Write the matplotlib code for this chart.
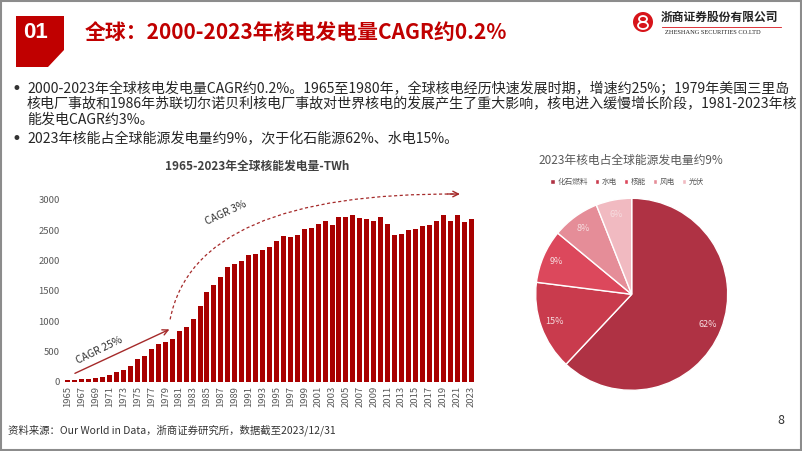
import matplotlib
matplotlib.use('Agg')
import matplotlib.pyplot as plt
from matplotlib.patches import Polygon, Rectangle, Ellipse, PathPatch
from matplotlib.path import Path
from matplotlib.lines import Line2D

plt.rcParams['font.family'] = ['Noto Sans CJK SC', 'DejaVu Sans']

# data
years = list(range(1965, 2024))
nuclear_twh = [25, 33, 40, 52, 62, 80, 110, 152, 200, 266,
               370, 430, 545, 630, 650, 708, 840, 910, 1030, 1250,
               1480, 1590, 1728, 1888, 1937, 1992, 2086, 2102, 2179, 2218,
               2317, 2400, 2383, 2422, 2515, 2532, 2609, 2647, 2592, 2713,
               2719, 2752, 2697, 2691, 2653, 2719, 2603, 2427, 2444, 2499,
               2526, 2565, 2587, 2653, 2746, 2647, 2757, 2636, 2680]

pie_labels = ['化石燃料', '水电', '核能', '风电', '光伏']
pie_shares = [62, 15, 9, 8, 6]
pie_colors = ['#AF3244', '#C93B4D', '#DC485C', '#E58D98', '#F1BAC1']

bullet1 = ['2000-2023年全球核电发电量CAGR约0.2%。1965至1980年，全球核电经历快速发展时期，增速约25%；1979年美国三里岛',
           '核电厂事故和1986年苏联切尔诺贝利核电厂事故对世界核电的发展产生了重大影响，核电进入缓慢增长阶段，1981-2023年核',
           '能发电CAGR约3%。']
bullet2 = '2023年核能占全球能源发电量约9%，次于化石能源62%、水电15%。'

RED = '#C00000'
W, H = 802, 451
fig = plt.figure(figsize=(W / 100, H / 100), dpi=100)


def fx(x):
    return x / W


def fy(y):
    return 1 - y / H


# slide frame
fig.patches.append(Rectangle((fx(1), fy(450)), 800 / W, 449 / H, fill=False,
                             ec='#8c8c8c', lw=1.5, transform=fig.transFigure))

# header box "01"
box = [(16, 16), (64, 16), (64, 50), (48, 67), (16, 67)]
fig.patches.append(Polygon([(fx(a), fy(b)) for a, b in box], closed=True,
                           fc=RED, ec='none', transform=fig.transFigure))
fig.text(fx(35), fy(33), '01', color='white', fontsize=16, weight='bold',
         ha='center', va='center', family='Liberation Sans')
fig.text(fx(85), fy(32), '全球：2000-2023年核电发电量CAGR约0.2%', color=RED,
         fontsize=15, weight='bold', ha='left', va='center')

# logo
fig.patches.append(Ellipse((fx(643), fy(22)), 20 / W, 20 / H, fc='#D7141A',
                           ec='none', transform=fig.transFigure))
fig.patches.append(Ellipse((fx(643), fy(19)), 8 / W, 6 / H, fc='none', ec='white',
                           lw=1.3, transform=fig.transFigure))
fig.patches.append(Ellipse((fx(643), fy(25.5)), 10 / W, 7 / H, fc='none', ec='white',
                           lw=1.3, transform=fig.transFigure))
fig.text(fx(661), fy(17), '浙商证券股份有限公司', fontsize=8.5, weight='bold',
         color='#222222', ha='left', va='center')
fig.lines.append(Line2D([fx(662), fx(781)], [fy(26.5), fy(26.5)], color='#D7141A',
                        lw=0.6, transform=fig.transFigure))
fig.text(fx(665), fy(32.5), 'ZHESHANG SECURITIES CO.LTD', fontsize=4.6,
         family='Liberation Serif', color='#222222', ha='left', va='center')

# bullets
for yy in (89, 139):
    fig.text(fx(11), fy(yy), '•', fontsize=12, color='#333333', va='center',
             family='DejaVu Sans')
for i, line in enumerate(bullet1):
    fig.text(fx(27), fy(89 + 15.2 * i), line, fontsize=10.1, color='#262626', va='center')
fig.text(fx(27), fy(139), bullet2, fontsize=10.1, color='#262626', va='center')

# bar chart
x0, x1, y0, y1 = 63.8, 475.2, 381.7, 190.9
ax = fig.add_axes([fx(x0), fy(y0), (x1 - x0) / W, (y0 - y1) / H])
ax.bar(years, nuclear_twh, width=0.72, color='#A80000')
ax.set_xlim(1964.4, 2023.6)
ax.set_ylim(0, 3150)
ax.set_yticks(range(0, 3001, 500))
ax.set_xticks(years[::2])
ax.set_xticklabels([str(y) for y in years[::2]], rotation=90)
ax.tick_params(length=0, labelsize=6.8, labelcolor='#595959', pad=3)
for s in ax.spines.values():
    s.set_visible(False)

arrow_col = '#A52A2A'
ax.annotate('', xy=(1979.6, 864), xytext=(1966, 138),
            arrowprops=dict(arrowstyle='->', color=arrow_col, lw=1, shrinkA=0, shrinkB=0))
curve = Path([(1979.7, 1029), (1983.3, 3132), (2021.2, 3098)],
             [Path.MOVETO, Path.CURVE3, Path.CURVE3])
ax.add_patch(PathPatch(curve, fill=False, ec=arrow_col, lw=0.9, ls=(0, (2.5, 2)), clip_on=False))
ax.annotate('', xy=(2021.4, 3098), xytext=(2019.6, 3099),
            arrowprops=dict(arrowstyle='->', color=arrow_col, lw=1, shrinkA=0, shrinkB=0),
            annotation_clip=False)
ax.text(1969.5, 523, 'CAGR 25%', rotation=26, rotation_mode='anchor', ha='center',
        va='center', fontsize=7.5, color='#333333')
ax.text(1987.7, 2780, 'CAGR 3%', rotation=25, rotation_mode='anchor', ha='center',
        va='center', fontsize=7.5, color='#333333')

fig.text(fx(257), fy(166), '1965-2023年全球核能发电量-TWh', fontsize=8.5, weight='bold',
         color='#404040', ha='center', va='center')

# pie chart
cx, cy, r = 631.7, 294.3, 96
ax2 = fig.add_axes([fx(cx - r), fy(cy + r), 2 * r / W, 2 * r / H])
wedges, texts, autotexts = ax2.pie(
    pie_shares, colors=pie_colors, startangle=90, counterclock=False,
    autopct=lambda p: f'{p:.0f}%', pctdistance=0.85,
    wedgeprops=dict(edgecolor='white', linewidth=1),
    textprops=dict(color='#F6DCDF', fontsize=6.5))
ax2.set_xlim(-1, 1)
ax2.set_ylim(-1, 1)

fig.text(fx(631), fy(160), '2023年核电占全球能源发电量约9%', fontsize=8.5,
         color='#595959', ha='center', va='center')
fig.legend(wedges, pie_labels, loc='center', bbox_to_anchor=(fx(627), fy(182)),
           ncol=5, frameon=False, fontsize=5.5, handlelength=0.6, handleheight=0.6,
           handletextpad=0.3, columnspacing=0.9, labelcolor='#595959')

# footer
fig.text(fx(8), fy(430), '资料来源：Our World in Data，浙商证券研究所，数据截至2023/12/31',
         fontsize=7.5, color='#333333', ha='left', va='center')
fig.text(fx(781), fy(421), '8', fontsize=9, color='#333333', ha='center', va='center')

fig.savefig('out.png', dpi=100)
